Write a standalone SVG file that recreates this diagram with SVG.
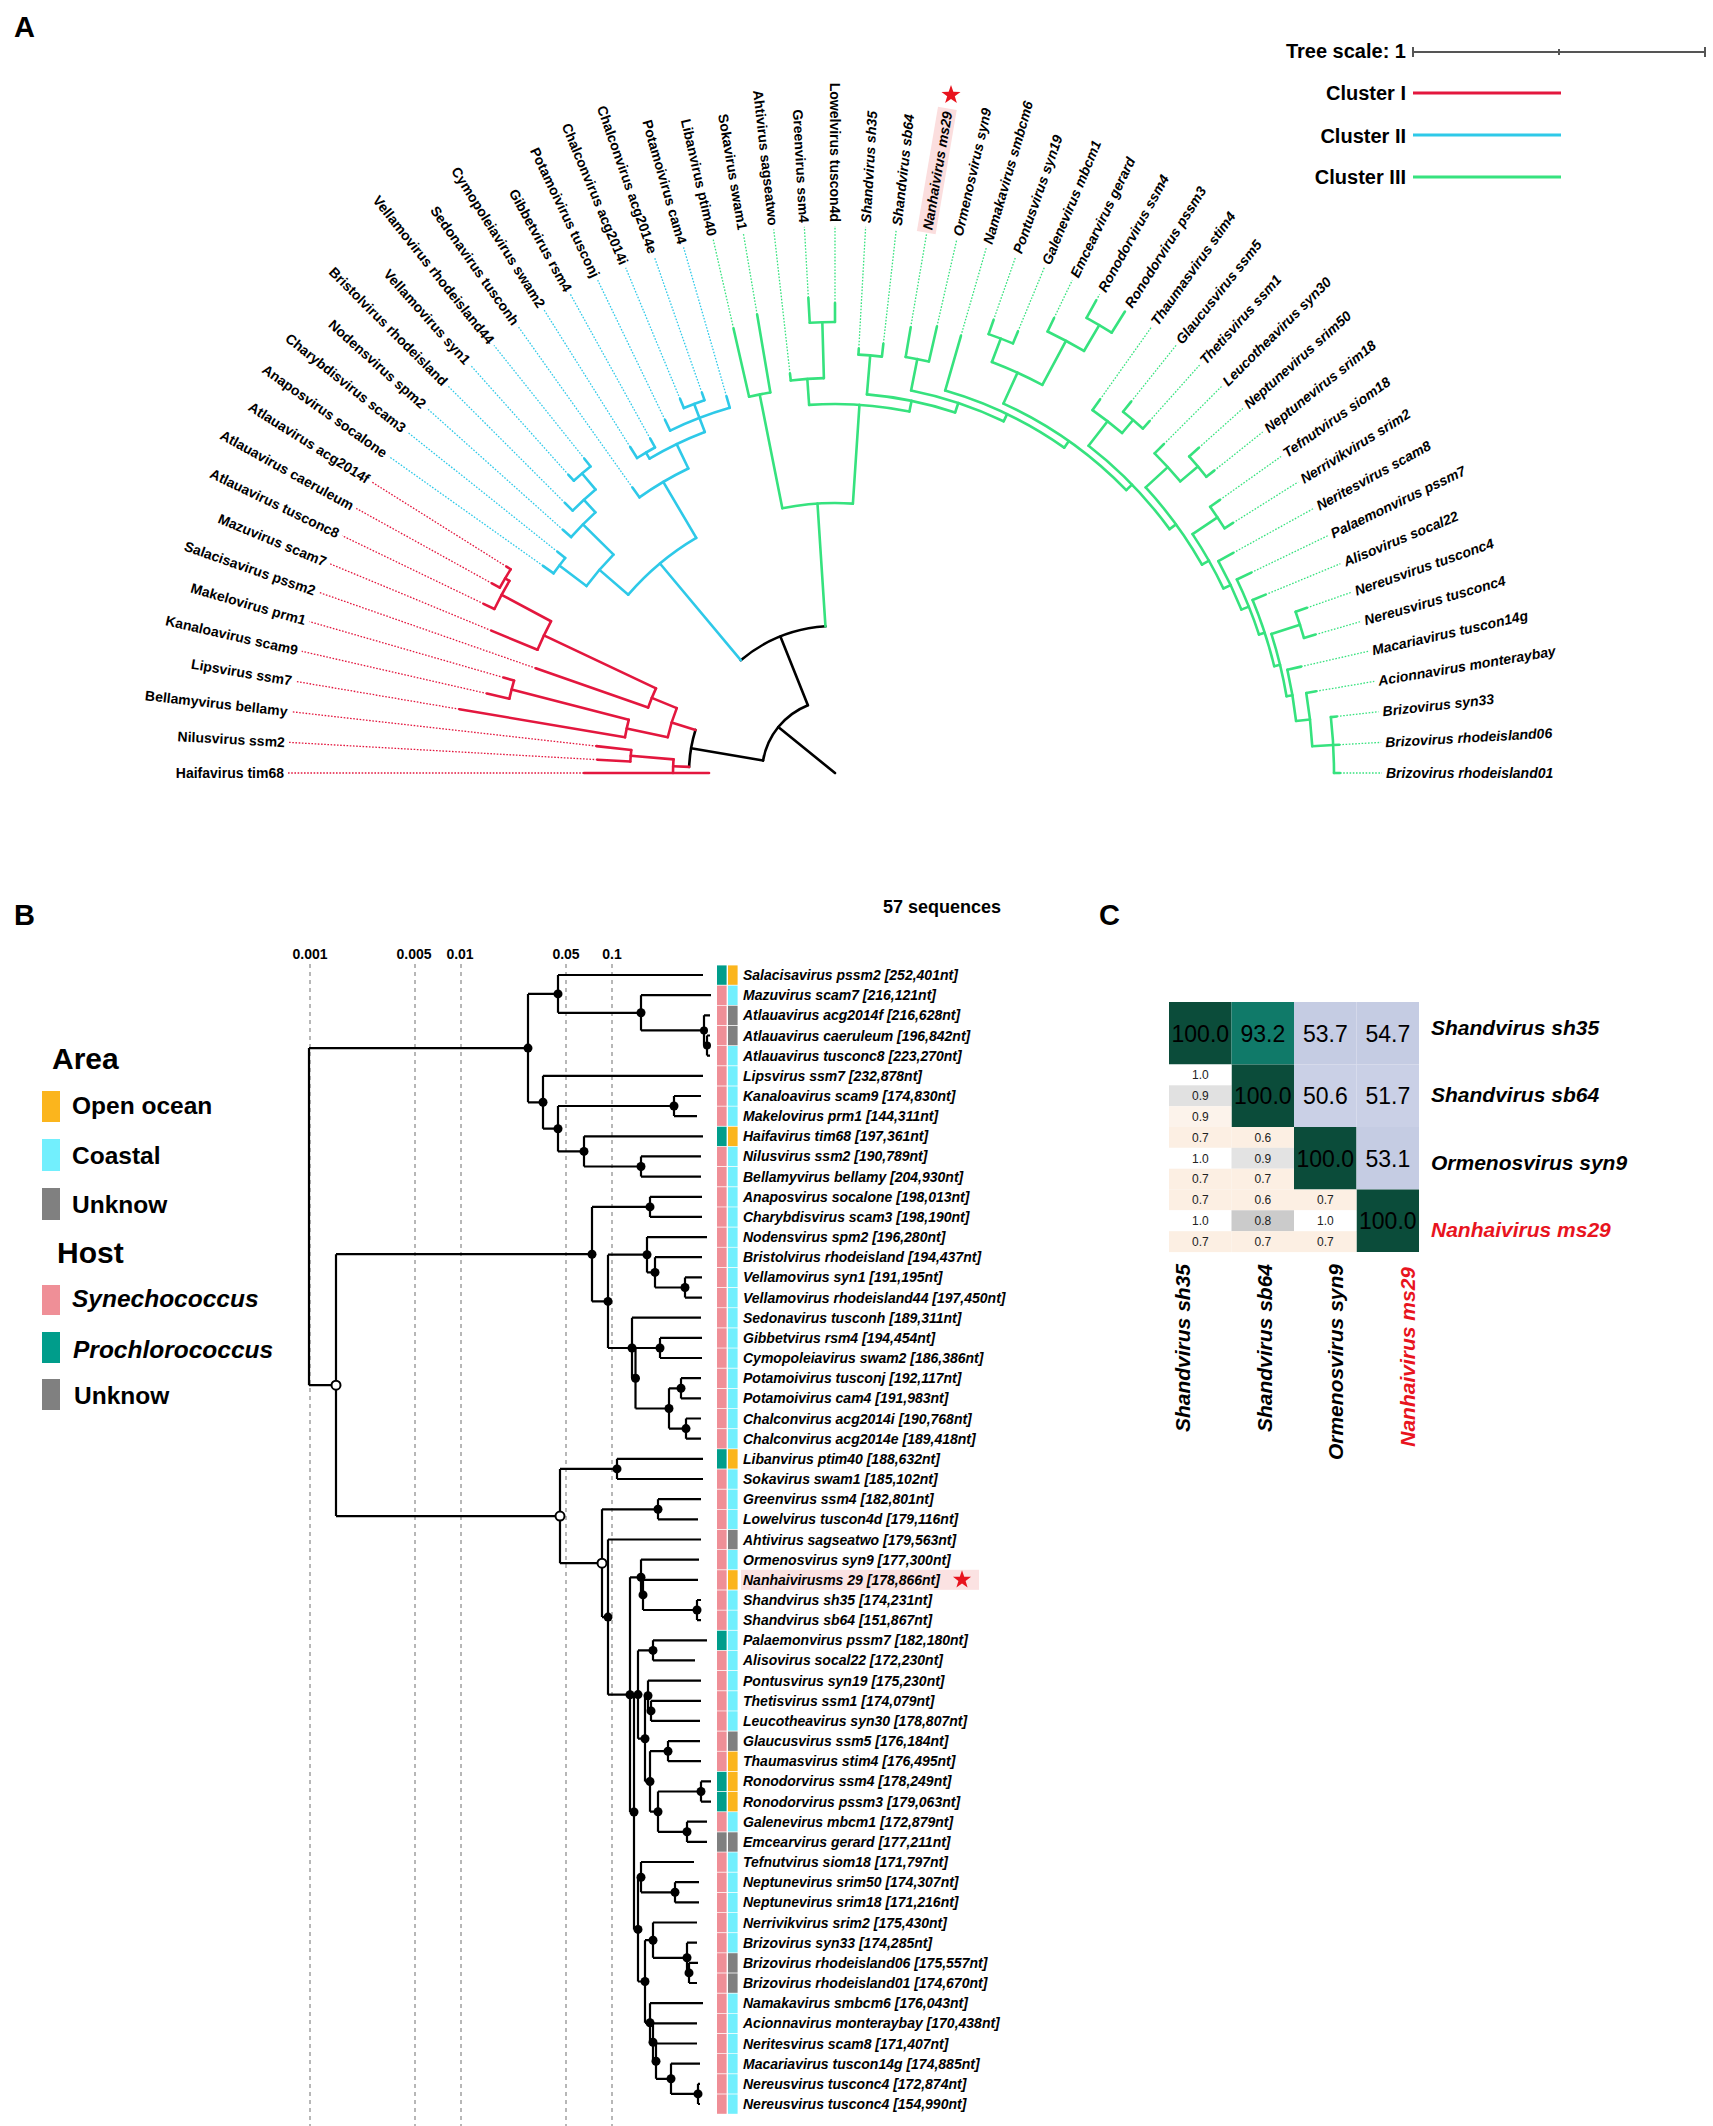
<svg xmlns="http://www.w3.org/2000/svg" width="1713" height="2126" viewBox="0 0 1713 2126">
<style>
text{font-family:"Liberation Sans",Arial,sans-serif;fill:#000}
.pl{font-size:29px;font-weight:bold}
.al{font-size:14px;font-weight:bold}
.ai{font-size:14px;font-weight:bold;font-style:italic}
.sol line,.sol circle{fill:none;stroke-linecap:round}
.r{stroke:#e3173e;stroke-width:2.6}
.c{stroke:#2ec9e8;stroke-width:2.6}
.g{stroke:#36e27e;stroke-width:2.6}
.k{stroke:#000;stroke-width:2.6}
.dot line{stroke-width:1.3;stroke-dasharray:1.6 1.6}
.rd{stroke:#e3173e}.cd{stroke:#2ec9e8}.gd{stroke:#36e27e}
.leg{font-size:20px;font-weight:bold;text-anchor:end}
.bt{font-size:14px;font-weight:bold;font-style:italic}
.sc{font-size:14px;font-weight:bold;text-anchor:middle}
.lg{font-size:24.5px;font-weight:bold}
.lh{font-size:30px;font-weight:bold}
.big{font-size:23px;text-anchor:middle}
.sm{font-size:12px;text-anchor:middle;fill:#222}
.cl{font-size:21px;font-weight:bold;font-style:italic}
.sy{fill:#ef8f97}.pr{fill:#009d8b}.un{fill:#808080}.oo{fill:#fbb51d}.co{fill:#72effd}
.dk{fill:#0b4c3a}.lv{fill:#c5cce3}.lv2{fill:#cad0e6}.pe{fill:#fcefe3}.wh{fill:#fff}
</style>
<defs>
<path id="star" d="M0,-10 L2.35,-3.24 L9.51,-3.09 L3.8,1.24 L5.88,8.09 L0,4 L-5.88,8.09 L-3.8,1.24 L-9.51,-3.09 L-2.35,-3.24Z" fill="#e8141e"/>
</defs>
<rect width="1713" height="2126" fill="#fff"/>

<!-- ================= PANEL A ================= -->
<g id="panel-a">
<text class="pl" x="14" y="37">A</text>
<g id="a-legend">
<text class="leg" x="1406" y="58">Tree scale: 1</text>
<g stroke="#555" stroke-width="2">
<line x1="1413" y1="52" x2="1705" y2="52"/>
<line x1="1413" y1="47" x2="1413" y2="57"/>
<line x1="1705" y1="47" x2="1705" y2="57"/>
<line x1="1559" y1="49" x2="1559" y2="55"/>
</g>
<text class="leg" x="1406" y="100">Cluster I</text>
<line x1="1413" y1="93" x2="1561" y2="93" stroke="#e3173e" stroke-width="3"/>
<text class="leg" x="1406" y="143">Cluster II</text>
<line x1="1413" y1="135" x2="1561" y2="135" stroke="#2ec9e8" stroke-width="3"/>
<text class="leg" x="1406" y="184">Cluster III</text>
<line x1="1413" y1="177" x2="1561" y2="177" stroke="#36e27e" stroke-width="3"/>
</g>

<g id="a-connectors" transform="translate(835,773)">
<g class="sol">
<g class="k">
<line x1="0" x2="73" transform="rotate(-141)"/>
<circle r="73" pathLength="360" stroke-dasharray="58.41 400" transform="rotate(-170.21)"/>
<line x1="73" x2="146" transform="rotate(-170.21)"/>
<circle r="146" pathLength="360" stroke-dasharray="14.76 400" transform="rotate(-177.59)"/>
<line x1="73" x2="147" transform="rotate(-111.8)"/>
<circle r="147" pathLength="360" stroke-dasharray="36.16 400" transform="rotate(-129.88)"/>
</g>
<g class="r">
<line x1="126" x2="251" transform="rotate(-180)"/>
<line x1="205" x2="238" transform="rotate(-176.79)"/>
<line x1="205" x2="240" transform="rotate(-173.57)"/>
<line x1="213" x2="381" transform="rotate(-170.36)"/>
<line x1="334" x2="357" transform="rotate(-167.14)"/>
<line x1="334" x2="345" transform="rotate(-163.93)"/>
<line x1="198" x2="317" transform="rotate(-160.71)"/>
<line x1="322" x2="372" transform="rotate(-157.5)"/>
<line x1="378" x2="390" transform="rotate(-154.29)"/>
<line x1="383" x2="392" transform="rotate(-151.07)"/>
<line x1="383" x2="388" transform="rotate(-147.86)"/>
<line x1="162" x2="205" transform="rotate(-175.18)"/>
<line x1="146" x2="162" transform="rotate(-177.59)"/>
<line x1="213" x2="334" transform="rotate(-165.54)"/>
<line x1="171" x2="213" transform="rotate(-167.95)"/>
<line x1="378" x2="383" transform="rotate(-149.46)"/>
<line x1="322" x2="378" transform="rotate(-151.88)"/>
<line x1="198" x2="322" transform="rotate(-154.69)"/>
<line x1="171" x2="198" transform="rotate(-157.7)"/>
<line x1="146" x2="171" transform="rotate(-162.83)"/>
<circle r="205" pathLength="360" stroke-dasharray="3.22 400" transform="rotate(-176.79)"/>
<circle r="162" pathLength="360" stroke-dasharray="4.82 400" transform="rotate(-180)"/>
<circle r="334" pathLength="360" stroke-dasharray="3.21 400" transform="rotate(-167.14)"/>
<circle r="213" pathLength="360" stroke-dasharray="4.82 400" transform="rotate(-170.36)"/>
<circle r="383" pathLength="360" stroke-dasharray="3.21 400" transform="rotate(-151.07)"/>
<circle r="378" pathLength="360" stroke-dasharray="4.83 400" transform="rotate(-154.29)"/>
<circle r="322" pathLength="360" stroke-dasharray="5.62 400" transform="rotate(-157.5)"/>
<circle r="198" pathLength="360" stroke-dasharray="6.02 400" transform="rotate(-160.71)"/>
<circle r="171" pathLength="360" stroke-dasharray="10.25 400" transform="rotate(-167.95)"/>
</g>
<g class="c">
<line x1="147" x2="273" transform="rotate(-129.88)"/>
<circle r="273" pathLength="360" stroke-dasharray="18.68 400" transform="rotate(-139.22)"/>
<line x1="273" x2="311" transform="rotate(-139.22)"/>
<circle r="311" pathLength="360" stroke-dasharray="7.64 400" transform="rotate(-143.04)"/>
<line x1="311" x2="345" transform="rotate(-143.04)"/>
<circle r="345" pathLength="360" stroke-dasharray="3.21 400" transform="rotate(-144.64)"/>
<line x1="311" x2="354" transform="rotate(-135.4)"/>
<circle r="354" pathLength="360" stroke-dasharray="5.62 400" transform="rotate(-138.21)"/>
<line x1="354" x2="371" transform="rotate(-132.59)"/>
<circle r="371" pathLength="360" stroke-dasharray="4.82 400" transform="rotate(-135)"/>
<line x1="371" x2="392" transform="rotate(-130.18)"/>
<circle r="392" pathLength="360" stroke-dasharray="3.22 400" transform="rotate(-131.79)"/>
<line x1="273" x2="338" transform="rotate(-120.54)"/>
<circle r="338" pathLength="360" stroke-dasharray="9.65 400" transform="rotate(-125.36)"/>
<line x1="338" x2="365" transform="rotate(-115.71)"/>
<circle r="365" pathLength="360" stroke-dasharray="9.65 400" transform="rotate(-120.54)"/>
<line x1="365" x2="372" transform="rotate(-120.54)"/>
<circle r="372" pathLength="360" stroke-dasharray="3.21 400" transform="rotate(-122.14)"/>
<line x1="365" x2="380" transform="rotate(-110.89)"/>
<circle r="380" pathLength="360" stroke-dasharray="9.64 400" transform="rotate(-115.71)"/>
<line x1="380" x2="395" transform="rotate(-110.89)"/>
<circle r="395" pathLength="360" stroke-dasharray="3.21 400" transform="rotate(-112.5)"/>
<line x1="345" x2="358" transform="rotate(-144.64)"/>
<line x1="345" x2="355" transform="rotate(-141.43)"/>
<line x1="354" x2="365" transform="rotate(-138.21)"/>
<line x1="371" x2="382" transform="rotate(-135)"/>
<line x1="392" x2="400" transform="rotate(-131.79)"/>
<line x1="392" x2="402" transform="rotate(-128.57)"/>
<line x1="338" x2="350" transform="rotate(-125.36)"/>
<line x1="372" x2="385" transform="rotate(-122.14)"/>
<line x1="372" x2="382" transform="rotate(-118.93)"/>
<line x1="380" x2="392" transform="rotate(-115.71)"/>
<line x1="395" x2="405" transform="rotate(-112.5)"/>
<line x1="395" x2="403" transform="rotate(-109.29)"/>
<line x1="380" x2="392" transform="rotate(-106.07)"/>
</g>
<g class="g">
<line x1="147" x2="270" transform="rotate(-93.72)"/>
<circle r="270" pathLength="360" stroke-dasharray="15.05 400" transform="rotate(-101.25)"/>
<line x1="270" x2="386" transform="rotate(-101.25)"/>
<circle r="386" pathLength="360" stroke-dasharray="3.22 400" transform="rotate(-102.86)"/>
<line x1="270" x2="369" transform="rotate(-86.2)"/>
<circle r="369" pathLength="360" stroke-dasharray="15.65 400" transform="rotate(-94.02)"/>
<line x1="369" x2="395" transform="rotate(-94.02)"/>
<circle r="395" pathLength="360" stroke-dasharray="4.82 400" transform="rotate(-96.43)"/>
<line x1="395" x2="451" transform="rotate(-91.61)"/>
<circle r="451" pathLength="360" stroke-dasharray="3.21 400" transform="rotate(-93.21)"/>
<line x1="369" x2="380" transform="rotate(-78.37)"/>
<circle r="380" pathLength="360" stroke-dasharray="13.61 400" transform="rotate(-85.18)"/>
<line x1="380" x2="419" transform="rotate(-85.18)"/>
<circle r="419" pathLength="360" stroke-dasharray="3.22 400" transform="rotate(-86.79)"/>
<line x1="380" x2="390" transform="rotate(-71.57)"/>
<circle r="390" pathLength="360" stroke-dasharray="14.37 400" transform="rotate(-78.75)"/>
<line x1="390" x2="422" transform="rotate(-78.75)"/>
<circle r="422" pathLength="360" stroke-dasharray="3.22 400" transform="rotate(-80.36)"/>
<line x1="390" x2="398" transform="rotate(-64.38)"/>
<circle r="398" pathLength="360" stroke-dasharray="19.1 400" transform="rotate(-73.93)"/>
<line x1="398" x2="406" transform="rotate(-54.83)"/>
<circle r="406" pathLength="360" stroke-dasharray="21.33 400" transform="rotate(-65.49)"/>
<line x1="406" x2="440" transform="rotate(-65.49)"/>
<circle r="440" pathLength="360" stroke-dasharray="7.23 400" transform="rotate(-69.11)"/>
<line x1="440" x2="465" transform="rotate(-69.11)"/>
<circle r="465" pathLength="360" stroke-dasharray="3.21 400" transform="rotate(-70.71)"/>
<line x1="440" x2="490" transform="rotate(-61.88)"/>
<circle r="490" pathLength="360" stroke-dasharray="4.83 400" transform="rotate(-64.29)"/>
<line x1="490" x2="520" transform="rotate(-59.46)"/>
<circle r="520" pathLength="360" stroke-dasharray="3.21 400" transform="rotate(-61.07)"/>
<line x1="406" x2="414" transform="rotate(-44.16)"/>
<circle r="414" pathLength="360" stroke-dasharray="16.14 400" transform="rotate(-52.23)"/>
<line x1="414" x2="445" transform="rotate(-52.23)"/>
<circle r="445" pathLength="360" stroke-dasharray="4.82 400" transform="rotate(-54.64)"/>
<line x1="445" x2="462" transform="rotate(-49.82)"/>
<circle r="462" pathLength="360" stroke-dasharray="3.22 400" transform="rotate(-51.43)"/>
<line x1="414" x2="422" transform="rotate(-36.09)"/>
<circle r="422" pathLength="360" stroke-dasharray="13.01 400" transform="rotate(-42.59)"/>
<line x1="422" x2="452" transform="rotate(-42.59)"/>
<circle r="452" pathLength="360" stroke-dasharray="4.82 400" transform="rotate(-45)"/>
<line x1="452" x2="475" transform="rotate(-40.18)"/>
<circle r="475" pathLength="360" stroke-dasharray="3.22 400" transform="rotate(-41.79)"/>
<line x1="422" x2="430" transform="rotate(-29.58)"/>
<circle r="430" pathLength="360" stroke-dasharray="8.34 400" transform="rotate(-33.75)"/>
<line x1="430" x2="460" transform="rotate(-33.75)"/>
<circle r="460" pathLength="360" stroke-dasharray="3.22 400" transform="rotate(-35.36)"/>
<line x1="430" x2="438" transform="rotate(-25.41)"/>
<circle r="438" pathLength="360" stroke-dasharray="7.03 400" transform="rotate(-28.93)"/>
<line x1="438" x2="446" transform="rotate(-21.9)"/>
<circle r="446" pathLength="360" stroke-dasharray="7.63 400" transform="rotate(-25.71)"/>
<line x1="446" x2="452" transform="rotate(-18.08)"/>
<circle r="452" pathLength="360" stroke-dasharray="8.84 400" transform="rotate(-22.5)"/>
<line x1="452" x2="458" transform="rotate(-13.66)"/>
<circle r="458" pathLength="360" stroke-dasharray="8.04 400" transform="rotate(-17.68)"/>
<line x1="458" x2="488" transform="rotate(-17.68)"/>
<circle r="488" pathLength="360" stroke-dasharray="3.22 400" transform="rotate(-19.29)"/>
<line x1="458" x2="464" transform="rotate(-9.64)"/>
<circle r="464" pathLength="360" stroke-dasharray="6.43 400" transform="rotate(-12.86)"/>
<line x1="464" x2="478" transform="rotate(-6.43)"/>
<circle r="478" pathLength="360" stroke-dasharray="6.43 400" transform="rotate(-9.64)"/>
<line x1="478" x2="499" transform="rotate(-3.21)"/>
<circle r="499" pathLength="360" stroke-dasharray="6.43 400" transform="rotate(-6.43)"/>
<line x1="386" x2="456" transform="rotate(-102.86)"/>
<line x1="386" x2="465" transform="rotate(-99.64)"/>
<line x1="395" x2="402" transform="rotate(-96.43)"/>
<line x1="451" x2="476" transform="rotate(-93.21)"/>
<line x1="451" x2="470" transform="rotate(-90)"/>
<line x1="419" x2="425" transform="rotate(-86.79)"/>
<line x1="419" x2="432" transform="rotate(-83.57)"/>
<line x1="422" x2="452" transform="rotate(-80.36)"/>
<line x1="422" x2="458" transform="rotate(-77.14)"/>
<line x1="398" x2="455" transform="rotate(-73.93)"/>
<line x1="465" x2="480" transform="rotate(-70.71)"/>
<line x1="465" x2="478" transform="rotate(-67.5)"/>
<line x1="490" x2="505" transform="rotate(-64.29)"/>
<line x1="520" x2="540" transform="rotate(-61.07)"/>
<line x1="520" x2="545" transform="rotate(-57.86)"/>
<line x1="445" x2="458" transform="rotate(-54.64)"/>
<line x1="462" x2="475" transform="rotate(-51.43)"/>
<line x1="462" x2="472" transform="rotate(-48.21)"/>
<line x1="452" x2="465" transform="rotate(-45)"/>
<line x1="475" x2="488" transform="rotate(-41.79)"/>
<line x1="475" x2="485" transform="rotate(-38.57)"/>
<line x1="460" x2="472" transform="rotate(-35.36)"/>
<line x1="460" x2="470" transform="rotate(-32.14)"/>
<line x1="438" x2="455" transform="rotate(-28.93)"/>
<line x1="446" x2="462" transform="rotate(-25.71)"/>
<line x1="452" x2="466" transform="rotate(-22.5)"/>
<line x1="488" x2="500" transform="rotate(-19.29)"/>
<line x1="488" x2="500" transform="rotate(-16.07)"/>
<line x1="464" x2="478" transform="rotate(-12.86)"/>
<line x1="478" x2="488" transform="rotate(-9.64)"/>
<line x1="499" x2="505" transform="rotate(-6.43)"/>
<line x1="499" x2="505" transform="rotate(-3.21)"/>
<line x1="499" x2="505"/>
</g>
</g>
<g class="dot">
<g class="rd">
<line x1="251" x2="547" transform="rotate(-180)"/>
<line x1="238" x2="547" transform="rotate(-176.79)"/>
<line x1="240" x2="547" transform="rotate(-173.57)"/>
<line x1="381" x2="547" transform="rotate(-170.36)"/>
<line x1="357" x2="547" transform="rotate(-167.14)"/>
<line x1="345" x2="547" transform="rotate(-163.93)"/>
<line x1="317" x2="547" transform="rotate(-160.71)"/>
<line x1="372" x2="547" transform="rotate(-157.5)"/>
<line x1="390" x2="547" transform="rotate(-154.29)"/>
<line x1="392" x2="547" transform="rotate(-151.07)"/>
<line x1="388" x2="547" transform="rotate(-147.86)"/>
</g>
<g class="cd">
<line x1="358" x2="547" transform="rotate(-144.64)"/>
<line x1="355" x2="547" transform="rotate(-141.43)"/>
<line x1="365" x2="547" transform="rotate(-138.21)"/>
<line x1="382" x2="547" transform="rotate(-135)"/>
<line x1="400" x2="547" transform="rotate(-131.79)"/>
<line x1="402" x2="547" transform="rotate(-128.57)"/>
<line x1="350" x2="547" transform="rotate(-125.36)"/>
<line x1="385" x2="547" transform="rotate(-122.14)"/>
<line x1="382" x2="547" transform="rotate(-118.93)"/>
<line x1="392" x2="547" transform="rotate(-115.71)"/>
<line x1="405" x2="547" transform="rotate(-112.5)"/>
<line x1="403" x2="547" transform="rotate(-109.29)"/>
<line x1="392" x2="547" transform="rotate(-106.07)"/>
</g>
<g class="gd">
<line x1="456" x2="547" transform="rotate(-102.86)"/>
<line x1="465" x2="547" transform="rotate(-99.64)"/>
<line x1="402" x2="547" transform="rotate(-96.43)"/>
<line x1="476" x2="547" transform="rotate(-93.21)"/>
<line x1="470" x2="547" transform="rotate(-90)"/>
<line x1="425" x2="547" transform="rotate(-86.79)"/>
<line x1="432" x2="547" transform="rotate(-83.57)"/>
<line x1="452" x2="547" transform="rotate(-80.36)"/>
<line x1="458" x2="547" transform="rotate(-77.14)"/>
<line x1="455" x2="547" transform="rotate(-73.93)"/>
<line x1="480" x2="547" transform="rotate(-70.71)"/>
<line x1="478" x2="547" transform="rotate(-67.5)"/>
<line x1="505" x2="547" transform="rotate(-64.29)"/>
<line x1="540" x2="547" transform="rotate(-61.07)"/>
<line x1="458" x2="547" transform="rotate(-54.64)"/>
<line x1="475" x2="547" transform="rotate(-51.43)"/>
<line x1="472" x2="547" transform="rotate(-48.21)"/>
<line x1="465" x2="547" transform="rotate(-45)"/>
<line x1="488" x2="547" transform="rotate(-41.79)"/>
<line x1="485" x2="547" transform="rotate(-38.57)"/>
<line x1="472" x2="547" transform="rotate(-35.36)"/>
<line x1="470" x2="547" transform="rotate(-32.14)"/>
<line x1="455" x2="547" transform="rotate(-28.93)"/>
<line x1="462" x2="547" transform="rotate(-25.71)"/>
<line x1="466" x2="547" transform="rotate(-22.5)"/>
<line x1="500" x2="547" transform="rotate(-19.29)"/>
<line x1="500" x2="547" transform="rotate(-16.07)"/>
<line x1="478" x2="547" transform="rotate(-12.86)"/>
<line x1="488" x2="547" transform="rotate(-9.64)"/>
<line x1="505" x2="547" transform="rotate(-6.43)"/>
<line x1="505" x2="547" transform="rotate(-3.21)"/>
<line x1="505" x2="547"/>
</g>
</g>
</g>

<g id="a-labels" transform="translate(835,773)">
<g id="a-haifavirus-tim68"><text class="al" x="-551" y="5" text-anchor="end">Haifavirus tim68</text></g>
<g id="a-nilusvirus-ssm2"><text class="al" x="-551" y="5" text-anchor="end" transform="rotate(3.21)">Nilusvirus ssm2</text></g>
<g id="a-bellamyvirus-bellamy"><text class="al" x="-551" y="5" text-anchor="end" transform="rotate(6.43)">Bellamyvirus bellamy</text></g>
<g id="a-lipsvirus-ssm7"><text class="al" x="-551" y="5" text-anchor="end" transform="rotate(9.64)">Lipsvirus ssm7</text></g>
<g id="a-kanaloavirus-scam9"><text class="al" x="-551" y="5" text-anchor="end" transform="rotate(12.86)">Kanaloavirus scam9</text></g>
<g id="a-makelovirus-prm1"><text class="al" x="-551" y="5" text-anchor="end" transform="rotate(16.07)">Makelovirus prm1</text></g>
<g id="a-salacisavirus-pssm2"><text class="al" x="-551" y="5" text-anchor="end" transform="rotate(19.29)">Salacisavirus pssm2</text></g>
<g id="a-mazuvirus-scam7"><text class="al" x="-551" y="5" text-anchor="end" transform="rotate(22.5)">Mazuvirus scam7</text></g>
<g id="a-atlauavirus-tusconc8"><text class="al" x="-551" y="5" text-anchor="end" transform="rotate(25.71)">Atlauavirus tusconc8</text></g>
<g id="a-atlauavirus-caeruleum"><text class="al" x="-551" y="5" text-anchor="end" transform="rotate(28.93)">Atlauavirus caeruleum</text></g>
<g id="a-atlauavirus-acg2014f"><text class="al" x="-551" y="5" text-anchor="end" transform="rotate(32.14)">Atlauavirus acg2014f</text></g>
<g id="a-anaposvirus-socalone"><text class="al" x="-551" y="5" text-anchor="end" transform="rotate(35.36)">Anaposvirus socalone</text></g>
<g id="a-charybdisvirus-scam3"><text class="al" x="-551" y="5" text-anchor="end" transform="rotate(38.57)">Charybdisvirus scam3</text></g>
<g id="a-nodensvirus-spm2"><text class="al" x="-551" y="5" text-anchor="end" transform="rotate(41.79)">Nodensvirus spm2</text></g>
<g id="a-bristolvirus-rhodeisland"><text class="al" x="-551" y="5" text-anchor="end" transform="rotate(45)">Bristolvirus rhodeisland</text></g>
<g id="a-vellamovirus-syn1"><text class="al" x="-551" y="5" text-anchor="end" transform="rotate(48.21)">Vellamovirus syn1</text></g>
<g id="a-vellamovirus-rhodeisland44"><text class="al" x="-551" y="5" text-anchor="end" transform="rotate(51.43)">Vellamovirus rhodeisland44</text></g>
<g id="a-sedonavirus-tusconh"><text class="al" x="-551" y="5" text-anchor="end" transform="rotate(54.64)">Sedonavirus tusconh</text></g>
<g id="a-cymopoleiavirus-swam2"><text class="al" x="-551" y="5" text-anchor="end" transform="rotate(57.86)">Cymopoleiavirus swam2</text></g>
<g id="a-gibbetvirus-rsm4"><text class="al" x="-551" y="5" text-anchor="end" transform="rotate(61.07)">Gibbetvirus rsm4</text></g>
<g id="a-potamoivirus-tusconj"><text class="al" x="-551" y="5" text-anchor="end" transform="rotate(64.29)">Potamoivirus tusconj</text></g>
<g id="a-chalconvirus-acg2014i"><text class="al" x="-551" y="5" text-anchor="end" transform="rotate(67.5)">Chalconvirus acg2014i</text></g>
<g id="a-chalconvirus-acg2014e"><text class="al" x="-551" y="5" text-anchor="end" transform="rotate(70.71)">Chalconvirus acg2014e</text></g>
<g id="a-potamoivirus-cam4"><text class="al" x="-551" y="5" text-anchor="end" transform="rotate(73.93)">Potamoivirus cam4</text></g>
<g id="a-libanvirus-ptim40"><text class="al" x="-551" y="5" text-anchor="end" transform="rotate(77.14)">Libanvirus ptim40</text></g>
<g id="a-sokavirus-swam1"><text class="al" x="-551" y="5" text-anchor="end" transform="rotate(80.36)">Sokavirus swam1</text></g>
<g id="a-ahtivirus-sagseatwo"><text class="al" x="-551" y="5" text-anchor="end" transform="rotate(83.57)">Ahtivirus sagseatwo</text></g>
<g id="a-greenvirus-ssm4"><text class="al" x="-551" y="5" text-anchor="end" transform="rotate(86.79)">Greenvirus ssm4</text></g>
<g id="a-lowelvirus-tuscon4d"><text class="al" x="-551" y="5" text-anchor="end" transform="rotate(90)">Lowelvirus tuscon4d</text></g>
<g id="a-shandvirus-sh35"><text class="ai" x="551" y="5" transform="rotate(-86.79)">Shandvirus sh35</text></g>
<g id="a-shandvirus-sb64"><text class="ai" x="551" y="5" transform="rotate(-83.57)">Shandvirus sb64</text></g>
<g id="a-nanhaivirus-ms29"><rect x="548" y="-10" width="126" height="19" fill="#fbdede" transform="rotate(-80.36)"/><text class="ai" x="551" y="5" transform="rotate(-80.36)">Nanhaivirus ms29</text></g>
<g id="a-ormenosvirus-syn9"><text class="ai" x="551" y="5" transform="rotate(-77.14)">Ormenosvirus syn9</text></g>
<g id="a-namakavirus-smbcm6"><text class="ai" x="551" y="5" transform="rotate(-73.93)">Namakavirus smbcm6</text></g>
<g id="a-pontusvirus-syn19"><text class="ai" x="551" y="5" transform="rotate(-70.71)">Pontusvirus syn19</text></g>
<g id="a-galenevirus-mbcm1"><text class="ai" x="551" y="5" transform="rotate(-67.5)">Galenevirus mbcm1</text></g>
<g id="a-emcearvirus-gerard"><text class="ai" x="551" y="5" transform="rotate(-64.29)">Emcearvirus gerard</text></g>
<g id="a-ronodorvirus-ssm4"><text class="ai" x="551" y="5" transform="rotate(-61.07)">Ronodorvirus ssm4</text></g>
<g id="a-ronodorvirus-pssm3"><text class="ai" x="551" y="5" transform="rotate(-57.86)">Ronodorvirus pssm3</text></g>
<g id="a-thaumasvirus-stim4"><text class="ai" x="551" y="5" transform="rotate(-54.64)">Thaumasvirus stim4</text></g>
<g id="a-glaucusvirus-ssm5"><text class="ai" x="551" y="5" transform="rotate(-51.43)">Glaucusvirus ssm5</text></g>
<g id="a-thetisvirus-ssm1"><text class="ai" x="551" y="5" transform="rotate(-48.21)">Thetisvirus ssm1</text></g>
<g id="a-leucotheavirus-syn30"><text class="ai" x="551" y="5" transform="rotate(-45)">Leucotheavirus syn30</text></g>
<g id="a-neptunevirus-srim50"><text class="ai" x="551" y="5" transform="rotate(-41.79)">Neptunevirus srim50</text></g>
<g id="a-neptunevirus-srim18"><text class="ai" x="551" y="5" transform="rotate(-38.57)">Neptunevirus srim18</text></g>
<g id="a-tefnutvirus-siom18"><text class="ai" x="551" y="5" transform="rotate(-35.36)">Tefnutvirus siom18</text></g>
<g id="a-nerrivikvirus-srim2"><text class="ai" x="551" y="5" transform="rotate(-32.14)">Nerrivikvirus srim2</text></g>
<g id="a-neritesvirus-scam8"><text class="ai" x="551" y="5" transform="rotate(-28.93)">Neritesvirus scam8</text></g>
<g id="a-palaemonvirus-pssm7"><text class="ai" x="551" y="5" transform="rotate(-25.71)">Palaemonvirus pssm7</text></g>
<g id="a-alisovirus-socal22"><text class="ai" x="551" y="5" transform="rotate(-22.5)">Alisovirus socal22</text></g>
<g id="a-nereusvirus-tusconc4-1"><text class="ai" x="551" y="5" transform="rotate(-19.29)">Nereusvirus tusconc4</text></g>
<g id="a-nereusvirus-tusconc4-2"><text class="ai" x="551" y="5" transform="rotate(-16.07)">Nereusvirus tusconc4</text></g>
<g id="a-macariavirus-tuscon14g"><text class="ai" x="551" y="5" transform="rotate(-12.86)">Macariavirus tuscon14g</text></g>
<g id="a-acionnavirus-monteraybay"><text class="ai" x="551" y="5" transform="rotate(-9.64)">Acionnavirus monteraybay</text></g>
<g id="a-brizovirus-syn33"><text class="ai" x="551" y="5" transform="rotate(-6.43)">Brizovirus syn33</text></g>
<g id="a-brizovirus-rhodeisland06"><text class="ai" x="551" y="5" transform="rotate(-3.21)">Brizovirus rhodeisland06</text></g>
<g id="a-brizovirus-rhodeisland01"><text class="ai" x="551" y="5">Brizovirus rhodeisland01</text></g>
</g>
<use id="a-star" href="#star" x="951" y="95"/>
</g>

<!-- ================= PANEL B ================= -->
<g id="panel-b">
<text class="pl" x="14" y="925">B</text>
<text id="b-count" x="942" y="913" font-size="18" font-weight="bold" text-anchor="middle">57 sequences</text>
<g id="b-legend">
<text class="lh" x="52" y="1069">Area</text>
<rect x="42" y="1091" width="18" height="31" class="oo"/>
<text class="lg" x="72" y="1114">Open ocean</text>
<rect x="42" y="1139" width="18" height="32" class="co"/>
<text class="lg" x="72" y="1164">Coastal</text>
<rect x="42" y="1188" width="18" height="32" class="un"/>
<text class="lg" x="72" y="1213">Unknow</text>
<text class="lh" x="57" y="1263">Host</text>
<rect x="42" y="1285" width="18" height="30" class="sy"/>
<text class="lg" x="72" y="1307" font-style="italic">Synechococcus</text>
<rect x="42" y="1332" width="18" height="31" class="pr"/>
<text class="lg" x="73" y="1358" font-style="italic">Prochlorococcus</text>
<rect x="42" y="1379" width="18" height="31" class="un"/>
<text class="lg" x="74" y="1404">Unknow</text>
</g>
<g id="b-scale">
<g stroke="#a6a6a6" stroke-width="1.6" stroke-dasharray="4 4">
<line x1="310" y1="964" x2="310" y2="2126"/>
<line x1="415" y1="964" x2="415" y2="2126"/>
<line x1="461" y1="964" x2="461" y2="2126"/>
<line x1="566" y1="964" x2="566" y2="2126"/>
<line x1="612" y1="964" x2="612" y2="2126"/>
</g>
<text class="sc" x="310" y="959">0.001</text>
<text class="sc" x="414" y="959">0.005</text>
<text class="sc" x="460" y="959">0.01</text>
<text class="sc" x="566" y="959">0.05</text>
<text class="sc" x="612" y="959">0.1</text>
</g>
<g id="b-connectors" fill="none" stroke="#000" stroke-width="2.2">
<path d="M309 1048.1V1385.2M309 1048.1H528M309 1385.2H336
M528 993.9V1102.3M528 993.9H558M528 1102.3H543
M558 975V1012.8M558 975H703M558 1012.8H641
M641 995.2V1030.4M641 995.2H711M641 1030.4H704
M704 1015.3V1045.6M704 1015.3H710M704 1045.6H707
M707 1035.5V1055.6M707 1035.5H710M707 1055.6H710
M543 1075.8V1128.7M543 1075.8H703M543 1128.7H558
M558 1106V1151.4M558 1106H674M558 1151.4H584
M674 1096V1116.1M674 1096H701M674 1116.1H697
M584 1136.3V1166.5M584 1136.3H703M584 1166.5H641
M641 1156.4V1176.6M641 1156.4H701M641 1176.6H701
M336 1254.2V1516.1M336 1254.2H592M336 1516.1H560
M592 1206.9V1301.4M592 1206.9H650M592 1301.4H608
M650 1196.8V1216.9M650 1196.8H702M650 1216.9H702
M608 1254.7V1348M608 1254.7H647M608 1348H632
M647 1237.1V1272.4M647 1237.1H707M647 1272.4H655
M655 1257.2V1287.5M655 1257.2H702M655 1287.5H685
M685 1277.4V1297.6M685 1277.4H702M685 1297.6H702
M632 1317.7V1378.2M632 1317.7H701M632 1378.2H635.5
M635.5 1348V1408.5M635.5 1348H660M635.5 1408.5H669
M660 1337.9V1358M660 1337.9H702M660 1358H702
M669 1388.3V1428.6M669 1388.3H681M669 1428.6H686
M681 1378.2V1398.4M681 1378.2H701M681 1398.4H701
M686 1418.5V1438.7M686 1418.5H701M686 1438.7H701
M560 1468.9V1563.2M560 1468.9H617M560 1563.2H602
M617 1458.8V1479M617 1458.8H703M617 1479H703
M602 1509.3V1617.1M602 1509.3H658M602 1617.1H608
M658 1499.2V1519.3M658 1499.2H701M658 1519.3H698
M608 1539.5V1694.7M608 1539.5H701M608 1694.7H630
M630 1577.3V1812M630 1577.3H641M630 1812H634
M641 1559.6V1594.9M641 1559.6H699M641 1594.9H643
M643 1579.8V1610M643 1579.8H698M643 1610H697
M697 1600V1620.1M697 1600H701M697 1620.1H701
M634 1694.6V1929.4M634 1694.6H638M634 1929.4H638
M638 1650.4V1738.7M638 1650.4H653M638 1738.7H645
M653 1640.3V1660.4M653 1640.3H707M653 1660.4H695
M645 1695.8V1781.5M645 1695.8H648M645 1781.5H650
M648 1680.6V1710.9M648 1680.6H701M648 1710.9H651
M651 1700.8V1720.9M651 1700.8H701M651 1720.9H700
M650 1751.2V1811.7M650 1751.2H668M650 1811.7H658
M668 1741.1V1761.2M668 1741.1H700M668 1761.2H701
M658 1791.5V1831.8M658 1791.5H701M658 1831.8H687
M701 1781.4V1801.6M701 1781.4H711M701 1801.6H711
M687 1821.7V1841.9M687 1821.7H707M687 1841.9H707
M638 1877.2V1981.5M638 1877.2H641M638 1981.5H645
M641 1862V1892.3M641 1862H694M641 1892.3H675
M675 1882.2V1902.4M675 1882.2H699M675 1902.4H699
M645 1940.2V2022.8M645 1940.2H653M645 2022.8H650
M653 1922.5V1957.8M653 1922.5H697M653 1957.8H687
M687 1942.7V1972.9M687 1942.7H697M687 1972.9H689
M689 1962.8V1983M689 1962.8H698M689 1983H697
M650 2003.2V2042.3M650 2003.2H703M650 2042.3H653
M653 2023.3V2061.2M653 2023.3H697M653 2061.2H656
M656 2043.5V2078.8M656 2043.5H697M656 2078.8H671
M671 2063.6V2093.9M671 2063.6H700M671 2093.9H698
M698 2083.8V2104M698 2083.8H700M698 2104H700"/>
</g>
<g id="b-nodes">
<g fill="#000">
<circle cx="528" cy="1048.1" r="4.5"/><circle cx="558" cy="993.9" r="4.5"/><circle cx="641" cy="1012.8" r="4.5"/>
<circle cx="704" cy="1030.4" r="4"/><circle cx="707" cy="1045.6" r="4"/><circle cx="543" cy="1102.3" r="4.5"/>
<circle cx="558" cy="1128.7" r="4.5"/><circle cx="674" cy="1106" r="4.5"/><circle cx="584" cy="1151.4" r="4.5"/>
<circle cx="641" cy="1166.5" r="4.5"/><circle cx="592" cy="1254.2" r="4.5"/><circle cx="650" cy="1206.9" r="4.5"/>
<circle cx="608" cy="1301.4" r="4.5"/><circle cx="647" cy="1254.7" r="4.5"/><circle cx="655" cy="1272.4" r="4.5"/>
<circle cx="685" cy="1287.5" r="4.5"/><circle cx="632" cy="1348" r="4.5"/><circle cx="635.5" cy="1378.2" r="4.5"/>
<circle cx="660" cy="1348" r="4.5"/><circle cx="669" cy="1408.5" r="4.5"/><circle cx="681" cy="1388.3" r="4.5"/>
<circle cx="686" cy="1428.6" r="4.5"/><circle cx="617" cy="1468.9" r="4.5"/><circle cx="658" cy="1509.3" r="4.5"/>
<circle cx="608" cy="1617.1" r="4.5"/><circle cx="630" cy="1694.7" r="4.5"/><circle cx="641" cy="1577.3" r="4.5"/>
<circle cx="643" cy="1594.9" r="4.5"/><circle cx="697" cy="1610" r="4.5"/><circle cx="634" cy="1812" r="4.5"/>
<circle cx="638" cy="1694.6" r="4.5"/><circle cx="653" cy="1650.4" r="4.5"/><circle cx="645" cy="1738.7" r="4.5"/>
<circle cx="648" cy="1695.8" r="4.5"/><circle cx="651" cy="1710.9" r="4.5"/><circle cx="650" cy="1781.5" r="4.5"/>
<circle cx="668" cy="1751.2" r="4.5"/><circle cx="658" cy="1811.7" r="4.5"/><circle cx="701" cy="1791.5" r="4.5"/>
<circle cx="687" cy="1831.8" r="4.5"/><circle cx="638" cy="1929.4" r="4.5"/><circle cx="641" cy="1877.2" r="4.5"/>
<circle cx="675" cy="1892.3" r="4.5"/><circle cx="645" cy="1981.5" r="4.5"/><circle cx="653" cy="1940.2" r="4.5"/>
<circle cx="687" cy="1957.8" r="4.5"/><circle cx="689" cy="1972.9" r="4.5"/><circle cx="650" cy="2022.8" r="4.5"/>
<circle cx="653" cy="2042.3" r="4.5"/><circle cx="656" cy="2061.2" r="4.5"/><circle cx="671" cy="2078.8" r="4.5"/>
<circle cx="698" cy="2093.9" r="4.5"/>
</g>
<g fill="#fff" stroke="#000" stroke-width="2">
<circle cx="336" cy="1385.2" r="4.5"/><circle cx="560" cy="1516.1" r="4.5"/><circle cx="602" cy="1563.2" r="4.5"/>
</g>
</g>
<g id="b-leaves">
<g id="b-salacisavirus-pssm2" transform="translate(0,975)"><rect x="717" y="-9.6" width="9.6" height="19.4" class="pr"/><rect x="728" y="-9.6" width="9.6" height="19.4" class="oo"/><text class="bt" x="743" y="5">Salacisavirus pssm2 [252,401nt]</text></g>
<g id="b-mazuvirus-scam7" transform="translate(0,995.2)"><rect x="717" y="-9.6" width="9.6" height="19.4" class="sy"/><rect x="728" y="-9.6" width="9.6" height="19.4" class="co"/><text class="bt" x="743" y="5">Mazuvirus scam7 [216,121nt]</text></g>
<g id="b-atlauavirus-acg2014f" transform="translate(0,1015.3)"><rect x="717" y="-9.6" width="9.6" height="19.4" class="sy"/><rect x="728" y="-9.6" width="9.6" height="19.4" class="un"/><text class="bt" x="743" y="5">Atlauavirus acg2014f [216,628nt]</text></g>
<g id="b-atlauavirus-caeruleum" transform="translate(0,1035.5)"><rect x="717" y="-9.6" width="9.6" height="19.4" class="sy"/><rect x="728" y="-9.6" width="9.6" height="19.4" class="un"/><text class="bt" x="743" y="5">Atlauavirus caeruleum [196,842nt]</text></g>
<g id="b-atlauavirus-tusconc8" transform="translate(0,1055.6)"><rect x="717" y="-9.6" width="9.6" height="19.4" class="sy"/><rect x="728" y="-9.6" width="9.6" height="19.4" class="co"/><text class="bt" x="743" y="5">Atlauavirus tusconc8 [223,270nt]</text></g>
<g id="b-lipsvirus-ssm7" transform="translate(0,1075.8)"><rect x="717" y="-9.6" width="9.6" height="19.4" class="sy"/><rect x="728" y="-9.6" width="9.6" height="19.4" class="co"/><text class="bt" x="743" y="5">Lipsvirus ssm7 [232,878nt]</text></g>
<g id="b-kanaloavirus-scam9" transform="translate(0,1096)"><rect x="717" y="-9.6" width="9.6" height="19.4" class="sy"/><rect x="728" y="-9.6" width="9.6" height="19.4" class="co"/><text class="bt" x="743" y="5">Kanaloavirus scam9 [174,830nt]</text></g>
<g id="b-makelovirus-prm1" transform="translate(0,1116.1)"><rect x="717" y="-9.6" width="9.6" height="19.4" class="sy"/><rect x="728" y="-9.6" width="9.6" height="19.4" class="co"/><text class="bt" x="743" y="5">Makelovirus prm1 [144,311nt]</text></g>
<g id="b-haifavirus-tim68" transform="translate(0,1136.3)"><rect x="717" y="-9.6" width="9.6" height="19.4" class="pr"/><rect x="728" y="-9.6" width="9.6" height="19.4" class="oo"/><text class="bt" x="743" y="5">Haifavirus tim68 [197,361nt]</text></g>
<g id="b-nilusvirus-ssm2" transform="translate(0,1156.4)"><rect x="717" y="-9.6" width="9.6" height="19.4" class="sy"/><rect x="728" y="-9.6" width="9.6" height="19.4" class="co"/><text class="bt" x="743" y="5">Nilusvirus ssm2 [190,789nt]</text></g>
<g id="b-bellamyvirus-bellamy" transform="translate(0,1176.6)"><rect x="717" y="-9.6" width="9.6" height="19.4" class="sy"/><rect x="728" y="-9.6" width="9.6" height="19.4" class="co"/><text class="bt" x="743" y="5">Bellamyvirus bellamy [204,930nt]</text></g>
<g id="b-anaposvirus-socalone" transform="translate(0,1196.8)"><rect x="717" y="-9.6" width="9.6" height="19.4" class="sy"/><rect x="728" y="-9.6" width="9.6" height="19.4" class="co"/><text class="bt" x="743" y="5">Anaposvirus socalone [198,013nt]</text></g>
<g id="b-charybdisvirus-scam3" transform="translate(0,1216.9)"><rect x="717" y="-9.6" width="9.6" height="19.4" class="sy"/><rect x="728" y="-9.6" width="9.6" height="19.4" class="co"/><text class="bt" x="743" y="5">Charybdisvirus scam3 [198,190nt]</text></g>
<g id="b-nodensvirus-spm2" transform="translate(0,1237.1)"><rect x="717" y="-9.6" width="9.6" height="19.4" class="sy"/><rect x="728" y="-9.6" width="9.6" height="19.4" class="co"/><text class="bt" x="743" y="5">Nodensvirus spm2 [196,280nt]</text></g>
<g id="b-bristolvirus-rhodeisland" transform="translate(0,1257.2)"><rect x="717" y="-9.6" width="9.6" height="19.4" class="sy"/><rect x="728" y="-9.6" width="9.6" height="19.4" class="co"/><text class="bt" x="743" y="5">Bristolvirus rhodeisland [194,437nt]</text></g>
<g id="b-vellamovirus-syn1" transform="translate(0,1277.4)"><rect x="717" y="-9.6" width="9.6" height="19.4" class="sy"/><rect x="728" y="-9.6" width="9.6" height="19.4" class="co"/><text class="bt" x="743" y="5">Vellamovirus syn1 [191,195nt]</text></g>
<g id="b-vellamovirus-rhodeisland44" transform="translate(0,1297.6)"><rect x="717" y="-9.6" width="9.6" height="19.4" class="sy"/><rect x="728" y="-9.6" width="9.6" height="19.4" class="co"/><text class="bt" x="743" y="5">Vellamovirus rhodeisland44 [197,450nt]</text></g>
<g id="b-sedonavirus-tusconh" transform="translate(0,1317.7)"><rect x="717" y="-9.6" width="9.6" height="19.4" class="sy"/><rect x="728" y="-9.6" width="9.6" height="19.4" class="co"/><text class="bt" x="743" y="5">Sedonavirus tusconh [189,311nt]</text></g>
<g id="b-gibbetvirus-rsm4" transform="translate(0,1337.9)"><rect x="717" y="-9.6" width="9.6" height="19.4" class="sy"/><rect x="728" y="-9.6" width="9.6" height="19.4" class="co"/><text class="bt" x="743" y="5">Gibbetvirus rsm4 [194,454nt]</text></g>
<g id="b-cymopoleiavirus-swam2" transform="translate(0,1358)"><rect x="717" y="-9.6" width="9.6" height="19.4" class="sy"/><rect x="728" y="-9.6" width="9.6" height="19.4" class="co"/><text class="bt" x="743" y="5">Cymopoleiavirus swam2 [186,386nt]</text></g>
<g id="b-potamoivirus-tusconj" transform="translate(0,1378.2)"><rect x="717" y="-9.6" width="9.6" height="19.4" class="sy"/><rect x="728" y="-9.6" width="9.6" height="19.4" class="co"/><text class="bt" x="743" y="5">Potamoivirus tusconj [192,117nt]</text></g>
<g id="b-potamoivirus-cam4" transform="translate(0,1398.4)"><rect x="717" y="-9.6" width="9.6" height="19.4" class="sy"/><rect x="728" y="-9.6" width="9.6" height="19.4" class="co"/><text class="bt" x="743" y="5">Potamoivirus cam4 [191,983nt]</text></g>
<g id="b-chalconvirus-acg2014i" transform="translate(0,1418.5)"><rect x="717" y="-9.6" width="9.6" height="19.4" class="sy"/><rect x="728" y="-9.6" width="9.6" height="19.4" class="co"/><text class="bt" x="743" y="5">Chalconvirus acg2014i [190,768nt]</text></g>
<g id="b-chalconvirus-acg2014e" transform="translate(0,1438.7)"><rect x="717" y="-9.6" width="9.6" height="19.4" class="sy"/><rect x="728" y="-9.6" width="9.6" height="19.4" class="co"/><text class="bt" x="743" y="5">Chalconvirus acg2014e [189,418nt]</text></g>
<g id="b-libanvirus-ptim40" transform="translate(0,1458.8)"><rect x="717" y="-9.6" width="9.6" height="19.4" class="pr"/><rect x="728" y="-9.6" width="9.6" height="19.4" class="oo"/><text class="bt" x="743" y="5">Libanvirus ptim40 [188,632nt]</text></g>
<g id="b-sokavirus-swam1" transform="translate(0,1479)"><rect x="717" y="-9.6" width="9.6" height="19.4" class="sy"/><rect x="728" y="-9.6" width="9.6" height="19.4" class="co"/><text class="bt" x="743" y="5">Sokavirus swam1 [185,102nt]</text></g>
<g id="b-greenvirus-ssm4" transform="translate(0,1499.2)"><rect x="717" y="-9.6" width="9.6" height="19.4" class="sy"/><rect x="728" y="-9.6" width="9.6" height="19.4" class="co"/><text class="bt" x="743" y="5">Greenvirus ssm4 [182,801nt]</text></g>
<g id="b-lowelvirus-tuscon4d" transform="translate(0,1519.3)"><rect x="717" y="-9.6" width="9.6" height="19.4" class="sy"/><rect x="728" y="-9.6" width="9.6" height="19.4" class="co"/><text class="bt" x="743" y="5">Lowelvirus tuscon4d [179,116nt]</text></g>
<g id="b-ahtivirus-sagseatwo" transform="translate(0,1539.5)"><rect x="717" y="-9.6" width="9.6" height="19.4" class="sy"/><rect x="728" y="-9.6" width="9.6" height="19.4" class="un"/><text class="bt" x="743" y="5">Ahtivirus sagseatwo [179,563nt]</text></g>
<g id="b-ormenosvirus-syn9" transform="translate(0,1559.6)"><rect x="717" y="-9.6" width="9.6" height="19.4" class="sy"/><rect x="728" y="-9.6" width="9.6" height="19.4" class="co"/><text class="bt" x="743" y="5">Ormenosvirus syn9 [177,300nt]</text></g>
<g id="b-nanhaivirus-ms29" transform="translate(0,1579.8)"><rect x="741" y="-10" width="238" height="20" fill="#fbe2e2"/><rect x="717" y="-9.6" width="9.6" height="19.4" class="sy"/><rect x="728" y="-9.6" width="9.6" height="19.4" class="oo"/><text class="bt" x="743" y="5">Nanhaivirusms 29 [178,866nt]</text><use href="#star" transform="translate(962,0) scale(0.95)"/></g>
<g id="b-shandvirus-sh35" transform="translate(0,1600)"><rect x="717" y="-9.6" width="9.6" height="19.4" class="sy"/><rect x="728" y="-9.6" width="9.6" height="19.4" class="co"/><text class="bt" x="743" y="5">Shandvirus sh35 [174,231nt]</text></g>
<g id="b-shandvirus-sb64" transform="translate(0,1620.1)"><rect x="717" y="-9.6" width="9.6" height="19.4" class="sy"/><rect x="728" y="-9.6" width="9.6" height="19.4" class="co"/><text class="bt" x="743" y="5">Shandvirus sb64 [151,867nt]</text></g>
<g id="b-palaemonvirus-pssm7" transform="translate(0,1640.3)"><rect x="717" y="-9.6" width="9.6" height="19.4" class="pr"/><rect x="728" y="-9.6" width="9.6" height="19.4" class="co"/><text class="bt" x="743" y="5">Palaemonvirus pssm7 [182,180nt]</text></g>
<g id="b-alisovirus-socal22" transform="translate(0,1660.4)"><rect x="717" y="-9.6" width="9.6" height="19.4" class="sy"/><rect x="728" y="-9.6" width="9.6" height="19.4" class="co"/><text class="bt" x="743" y="5">Alisovirus socal22 [172,230nt]</text></g>
<g id="b-pontusvirus-syn19" transform="translate(0,1680.6)"><rect x="717" y="-9.6" width="9.6" height="19.4" class="sy"/><rect x="728" y="-9.6" width="9.6" height="19.4" class="co"/><text class="bt" x="743" y="5">Pontusvirus syn19 [175,230nt]</text></g>
<g id="b-thetisvirus-ssm1" transform="translate(0,1700.8)"><rect x="717" y="-9.6" width="9.6" height="19.4" class="sy"/><rect x="728" y="-9.6" width="9.6" height="19.4" class="co"/><text class="bt" x="743" y="5">Thetisvirus ssm1 [174,079nt]</text></g>
<g id="b-leucotheavirus-syn30" transform="translate(0,1720.9)"><rect x="717" y="-9.6" width="9.6" height="19.4" class="sy"/><rect x="728" y="-9.6" width="9.6" height="19.4" class="co"/><text class="bt" x="743" y="5">Leucotheavirus syn30 [178,807nt]</text></g>
<g id="b-glaucusvirus-ssm5" transform="translate(0,1741.1)"><rect x="717" y="-9.6" width="9.6" height="19.4" class="sy"/><rect x="728" y="-9.6" width="9.6" height="19.4" class="un"/><text class="bt" x="743" y="5">Glaucusvirus ssm5 [176,184nt]</text></g>
<g id="b-thaumasvirus-stim4" transform="translate(0,1761.2)"><rect x="717" y="-9.6" width="9.6" height="19.4" class="sy"/><rect x="728" y="-9.6" width="9.6" height="19.4" class="oo"/><text class="bt" x="743" y="5">Thaumasvirus stim4 [176,495nt]</text></g>
<g id="b-ronodorvirus-ssm4" transform="translate(0,1781.4)"><rect x="717" y="-9.6" width="9.6" height="19.4" class="pr"/><rect x="728" y="-9.6" width="9.6" height="19.4" class="oo"/><text class="bt" x="743" y="5">Ronodorvirus ssm4 [178,249nt]</text></g>
<g id="b-ronodorvirus-pssm3" transform="translate(0,1801.6)"><rect x="717" y="-9.6" width="9.6" height="19.4" class="pr"/><rect x="728" y="-9.6" width="9.6" height="19.4" class="oo"/><text class="bt" x="743" y="5">Ronodorvirus pssm3 [179,063nt]</text></g>
<g id="b-galenevirus-mbcm1" transform="translate(0,1821.7)"><rect x="717" y="-9.6" width="9.6" height="19.4" class="sy"/><rect x="728" y="-9.6" width="9.6" height="19.4" class="co"/><text class="bt" x="743" y="5">Galenevirus mbcm1 [172,879nt]</text></g>
<g id="b-emcearvirus-gerard" transform="translate(0,1841.9)"><rect x="717" y="-9.6" width="9.6" height="19.4" class="un"/><rect x="728" y="-9.6" width="9.6" height="19.4" class="un"/><text class="bt" x="743" y="5">Emcearvirus gerard [177,211nt]</text></g>
<g id="b-tefnutvirus-siom18" transform="translate(0,1862)"><rect x="717" y="-9.6" width="9.6" height="19.4" class="sy"/><rect x="728" y="-9.6" width="9.6" height="19.4" class="co"/><text class="bt" x="743" y="5">Tefnutvirus siom18 [171,797nt]</text></g>
<g id="b-neptunevirus-srim50" transform="translate(0,1882.2)"><rect x="717" y="-9.6" width="9.6" height="19.4" class="sy"/><rect x="728" y="-9.6" width="9.6" height="19.4" class="co"/><text class="bt" x="743" y="5">Neptunevirus srim50 [174,307nt]</text></g>
<g id="b-neptunevirus-srim18" transform="translate(0,1902.4)"><rect x="717" y="-9.6" width="9.6" height="19.4" class="sy"/><rect x="728" y="-9.6" width="9.6" height="19.4" class="co"/><text class="bt" x="743" y="5">Neptunevirus srim18 [171,216nt]</text></g>
<g id="b-nerrivikvirus-srim2" transform="translate(0,1922.5)"><rect x="717" y="-9.6" width="9.6" height="19.4" class="sy"/><rect x="728" y="-9.6" width="9.6" height="19.4" class="co"/><text class="bt" x="743" y="5">Nerrivikvirus srim2 [175,430nt]</text></g>
<g id="b-brizovirus-syn33" transform="translate(0,1942.7)"><rect x="717" y="-9.6" width="9.6" height="19.4" class="sy"/><rect x="728" y="-9.6" width="9.6" height="19.4" class="co"/><text class="bt" x="743" y="5">Brizovirus syn33 [174,285nt]</text></g>
<g id="b-brizovirus-rhodeisland06" transform="translate(0,1962.8)"><rect x="717" y="-9.6" width="9.6" height="19.4" class="sy"/><rect x="728" y="-9.6" width="9.6" height="19.4" class="un"/><text class="bt" x="743" y="5">Brizovirus rhodeisland06 [175,557nt]</text></g>
<g id="b-brizovirus-rhodeisland01" transform="translate(0,1983)"><rect x="717" y="-9.6" width="9.6" height="19.4" class="sy"/><rect x="728" y="-9.6" width="9.6" height="19.4" class="un"/><text class="bt" x="743" y="5">Brizovirus rhodeisland01 [174,670nt]</text></g>
<g id="b-namakavirus-smbcm6" transform="translate(0,2003.2)"><rect x="717" y="-9.6" width="9.6" height="19.4" class="sy"/><rect x="728" y="-9.6" width="9.6" height="19.4" class="co"/><text class="bt" x="743" y="5">Namakavirus smbcm6 [176,043nt]</text></g>
<g id="b-acionnavirus-monteraybay" transform="translate(0,2023.3)"><rect x="717" y="-9.6" width="9.6" height="19.4" class="sy"/><rect x="728" y="-9.6" width="9.6" height="19.4" class="co"/><text class="bt" x="743" y="5">Acionnavirus monteraybay [170,438nt]</text></g>
<g id="b-neritesvirus-scam8" transform="translate(0,2043.5)"><rect x="717" y="-9.6" width="9.6" height="19.4" class="sy"/><rect x="728" y="-9.6" width="9.6" height="19.4" class="co"/><text class="bt" x="743" y="5">Neritesvirus scam8 [171,407nt]</text></g>
<g id="b-macariavirus-tuscon14g" transform="translate(0,2063.6)"><rect x="717" y="-9.6" width="9.6" height="19.4" class="sy"/><rect x="728" y="-9.6" width="9.6" height="19.4" class="co"/><text class="bt" x="743" y="5">Macariavirus tuscon14g [174,885nt]</text></g>
<g id="b-nereusvirus-tusconc4-1" transform="translate(0,2083.8)"><rect x="717" y="-9.6" width="9.6" height="19.4" class="sy"/><rect x="728" y="-9.6" width="9.6" height="19.4" class="co"/><text class="bt" x="743" y="5">Nereusvirus tusconc4 [172,874nt]</text></g>
<g id="b-nereusvirus-tusconc4-2" transform="translate(0,2104)"><rect x="717" y="-9.6" width="9.6" height="19.4" class="sy"/><rect x="728" y="-9.6" width="9.6" height="19.4" class="co"/><text class="bt" x="743" y="5">Nereusvirus tusconc4 [154,990nt]</text></g>
</g>
</g>

<!-- ================= PANEL C ================= -->
<g id="panel-c">
<text class="pl" x="1099" y="925">C</text>
<g id="c-cells">
<rect x="1169" y="1002" width="62.5" height="62.5" class="dk"/>
<rect x="1231.5" y="1002" width="62.5" height="62.5" fill="#107a69"/>
<rect x="1294" y="1002" width="62.5" height="62.5" class="lv"/>
<rect x="1356.5" y="1002" width="62.5" height="62.5" class="lv"/>
<rect x="1231.5" y="1064.5" width="62.5" height="62.5" class="dk"/>
<rect x="1294" y="1064.5" width="62.5" height="62.5" class="lv2"/>
<rect x="1356.5" y="1064.5" width="62.5" height="62.5" class="lv2"/>
<rect x="1294" y="1127" width="62.5" height="62.5" class="dk"/>
<rect x="1356.5" y="1127" width="62.5" height="62.5" class="lv"/>
<rect x="1356.5" y="1189.5" width="62.5" height="62.5" class="dk"/>
<rect x="1169" y="1064.5" width="62.5" height="20.9" class="wh"/>
<rect x="1169" y="1085.3" width="62.5" height="20.9" fill="#e1e1e1"/>
<rect x="1169" y="1106.2" width="62.5" height="20.9" fill="#fcf3eb"/>
<rect x="1169" y="1127" width="62.5" height="20.9" class="pe"/>
<rect x="1169" y="1147.8" width="62.5" height="20.9" class="wh"/>
<rect x="1169" y="1168.7" width="62.5" height="20.9" class="pe"/>
<rect x="1231.5" y="1127" width="62.5" height="20.9" class="pe"/>
<rect x="1231.5" y="1147.8" width="62.5" height="20.9" fill="#e3e3e3"/>
<rect x="1231.5" y="1168.7" width="62.5" height="20.9" class="pe"/>
<rect x="1169" y="1189.5" width="62.5" height="20.9" class="pe"/>
<rect x="1169" y="1210.3" width="62.5" height="20.9" class="wh"/>
<rect x="1169" y="1231.2" width="62.5" height="20.9" class="pe"/>
<rect x="1231.5" y="1189.5" width="62.5" height="20.9" class="pe"/>
<rect x="1231.5" y="1210.3" width="62.5" height="20.9" fill="#cbcbcb"/>
<rect x="1231.5" y="1231.2" width="62.5" height="20.9" class="pe"/>
<rect x="1294" y="1189.5" width="62.5" height="20.9" class="pe"/>
<rect x="1294" y="1210.3" width="62.5" height="20.9" class="wh"/>
<rect x="1294" y="1231.2" width="62.5" height="20.9" class="pe"/>
</g>
<g id="c-values">
<text class="big" x="1200.3" y="1041.5">100.0</text>
<text class="big" x="1262.8" y="1041.5">93.2</text>
<text class="big" x="1325.3" y="1041.5">53.7</text>
<text class="big" x="1387.8" y="1041.5">54.7</text>
<text class="big" x="1262.8" y="1104">100.0</text>
<text class="big" x="1325.3" y="1104">50.6</text>
<text class="big" x="1387.8" y="1104">51.7</text>
<text class="big" x="1325.3" y="1166.5">100.0</text>
<text class="big" x="1387.8" y="1166.5">53.1</text>
<text class="big" x="1387.8" y="1229">100.0</text>
<text class="sm" x="1200.3" y="1079.2">1.0</text>
<text class="sm" x="1200.3" y="1100">0.9</text>
<text class="sm" x="1200.3" y="1120.9">0.9</text>
<text class="sm" x="1200.3" y="1141.7">0.7</text>
<text class="sm" x="1200.3" y="1162.5">1.0</text>
<text class="sm" x="1200.3" y="1183.4">0.7</text>
<text class="sm" x="1262.8" y="1141.7">0.6</text>
<text class="sm" x="1262.8" y="1162.5">0.9</text>
<text class="sm" x="1262.8" y="1183.4">0.7</text>
<text class="sm" x="1200.3" y="1204.2">0.7</text>
<text class="sm" x="1200.3" y="1225">1.0</text>
<text class="sm" x="1200.3" y="1245.9">0.7</text>
<text class="sm" x="1262.8" y="1204.2">0.6</text>
<text class="sm" x="1262.8" y="1225">0.8</text>
<text class="sm" x="1262.8" y="1245.9">0.7</text>
<text class="sm" x="1325.3" y="1204.2">0.7</text>
<text class="sm" x="1325.3" y="1225">1.0</text>
<text class="sm" x="1325.3" y="1245.9">0.7</text>
</g>
<g id="c-row-labels">
<text class="cl" x="1431" y="1035">Shandvirus sh35</text>
<text class="cl" x="1431" y="1102">Shandvirus sb64</text>
<text class="cl" x="1431" y="1170">Ormenosvirus syn9</text>
<text class="cl" x="1431" y="1237" style="fill:#e8141e">Nanhaivirus ms29</text>
</g>
<g id="c-col-labels">
<text class="cl" x="1190" y="1264" text-anchor="end" transform="rotate(-90 1190 1264)">Shandvirus sh35</text>
<text class="cl" x="1272" y="1264" text-anchor="end" transform="rotate(-90 1272 1264)">Shandvirus sb64</text>
<text class="cl" x="1343" y="1264" text-anchor="end" transform="rotate(-90 1343 1264)">Ormenosvirus syn9</text>
<text class="cl" x="1415" y="1267" text-anchor="end" transform="rotate(-90 1415 1267)" style="fill:#e8141e">Nanhaivirus ms29</text>
</g>
</g>
</svg>
